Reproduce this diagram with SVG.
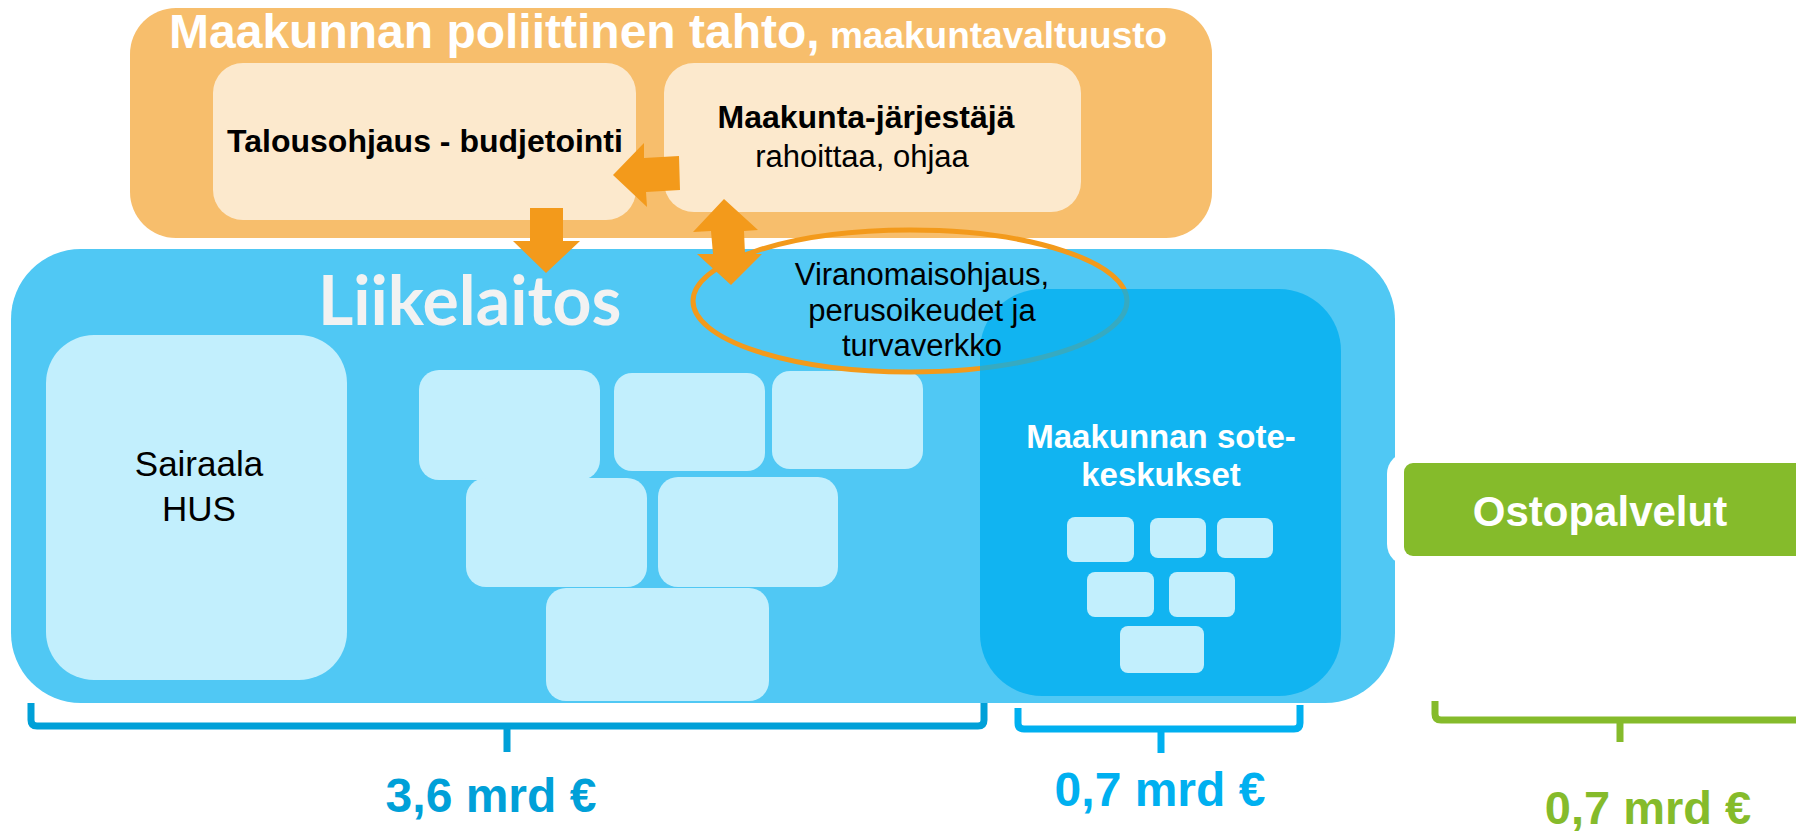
<svg xmlns="http://www.w3.org/2000/svg" width="1796" height="832" viewBox="0 0 1796 832">
<style>
.sans{font-family:"Liberation Sans",Arial,sans-serif}
.b{font-weight:bold}
.light{fill:#C2EFFD}
.inner{fill:#FCE9CD}
.arrow{fill:#F39A1B}
.brace{fill:none;stroke-width:7;stroke-linejoin:round;stroke-linecap:butt}
</style>
<rect width="1796" height="832" fill="#FFFFFF"/>

<g id="maakunta">
  <rect x="130" y="8" width="1082" height="230" rx="46" fill="#F7BE6C"/>
  <text class="sans b" x="169" y="48" font-size="48" fill="#FFFFFF">Maakunnan poliittinen tahto,<tspan font-size="37"> maakuntavaltuusto</tspan></text>
</g>

<g id="talousohjaus">
  <rect class="inner" x="213" y="63" width="423" height="157" rx="30"/>
  <text class="sans b" x="425" y="152" font-size="32" text-anchor="middle" fill="#000">Talousohjaus - budjetointi</text>
</g>

<g id="jarjestaja">
  <rect class="inner" x="664" y="63" width="417" height="149" rx="30"/>
  <text class="sans b" x="866" y="128" font-size="32" text-anchor="middle" fill="#000">Maakunta-järjestäjä</text>
  <text class="sans" x="862" y="167" font-size="31" text-anchor="middle" fill="#000">rahoittaa, ohjaa</text>
</g>

<g id="liikelaitos">
  <rect x="11" y="249" width="1384" height="454" rx="70" fill="#50C8F4"/>
  <text x="318" y="325" font-family="Lato,'Open Sans',sans-serif" font-weight="bold" font-size="68" fill="#F2F2F2">Liikelaitos</text>
</g>

<g id="sairaala">
  <rect class="light" x="46" y="335" width="301" height="345" rx="48"/>
  <text class="sans" x="199" y="476" font-size="35" text-anchor="middle" fill="#000">Sairaala</text>
  <text class="sans" x="199" y="521" font-size="35" text-anchor="middle" fill="#000">HUS</text>
</g>

<g id="yksikot">
  <rect class="light" x="419" y="370" width="181" height="110" rx="20"/>
  <rect class="light" x="614" y="373" width="151" height="98" rx="18"/>
  <rect class="light" x="772" y="371" width="151" height="98" rx="18"/>
  <rect class="light" x="466" y="478" width="181" height="109" rx="20"/>
  <rect class="light" x="658" y="477" width="180" height="110" rx="20"/>
  <rect class="light" x="546" y="588" width="223" height="113" rx="20"/>
</g>

<g id="viranomaisohjaus">
  <ellipse cx="910" cy="301" rx="217" ry="71" fill="none" stroke="#F39A1B" stroke-width="5"/>
</g>

<g id="sotekeskukset">
  <rect x="980" y="289" width="361" height="407" rx="62" fill="#00AEEF" fill-opacity="0.78"/>
  <text class="sans b" x="1161" y="448" font-size="33" text-anchor="middle" fill="#FFFFFF">Maakunnan sote-</text>
  <text class="sans b" x="1161" y="486" font-size="33" text-anchor="middle" fill="#FFFFFF">keskukset</text>
  <rect class="light" x="1067" y="517" width="67" height="45" rx="8"/>
  <rect class="light" x="1150" y="518" width="56" height="40" rx="8"/>
  <rect class="light" x="1217" y="518" width="56" height="40" rx="8"/>
  <rect class="light" x="1087" y="572" width="67" height="45" rx="8"/>
  <rect class="light" x="1169" y="572" width="66" height="45" rx="8"/>
  <rect class="light" x="1120" y="626" width="84" height="47" rx="8"/>
</g>

<g id="viranomaisohjaus-text">
  <text class="sans" x="922" y="285" font-size="31" text-anchor="middle" fill="#000">Viranomaisohjaus,</text>
  <text class="sans" x="922" y="321" font-size="31" text-anchor="middle" fill="#000">perusoikeudet ja</text>
  <text class="sans" x="922" y="356" font-size="31" text-anchor="middle" fill="#000">turvaverkko</text>
</g>

<g id="ostopalvelut">
  <rect x="1387" y="452" width="430" height="114" rx="22" fill="#FFFFFF"/>
  <rect x="1404" y="463" width="410" height="93" rx="9" fill="#85BB2B"/>
  <text class="sans b" x="1600" y="526" font-size="42" text-anchor="middle" fill="#FFFFFF">Ostopalvelut</text>
</g>

<g id="connectors">
  <polygon class="arrow" points="613,175 644,143 644,158 679,156 680,190 646,192 647,207"/>
  <polygon class="arrow" points="530,208 563,208 563,241 580,241 546,273 513,241 530,241"/>
  <polygon class="arrow" points="724,199 758,230 744,231 745,254 762,254 731,285 697,254 713,254 711,231 693,232"/>
</g>

<g id="brackets">
  <path class="brace" stroke="#00A0D8" d="M31,703 V720 Q31,726 37,726 H978 Q984,726 984,720 V703 M507,726 V752"/>
  <path class="brace" stroke="#00B0F0" d="M1018,708 V723 Q1018,729 1024,729 H1294 Q1300,729 1300,723 V705 M1161,729 V753"/>
  <path class="brace" stroke="#85BB2B" d="M1435,701 V714 Q1435,720 1441,720 H1800 M1620,720 V742"/>
  <text class="sans b" x="491" y="812" font-size="48" text-anchor="middle" fill="#00A0D8">3,6 mrd €</text>
  <text class="sans b" x="1160" y="806" font-size="48" text-anchor="middle" fill="#00B0F0">0,7 mrd €</text>
  <text class="sans b" x="1648" y="824" font-size="47" text-anchor="middle" fill="#85BB2B">0,7 mrd €</text>
</g>
</svg>
